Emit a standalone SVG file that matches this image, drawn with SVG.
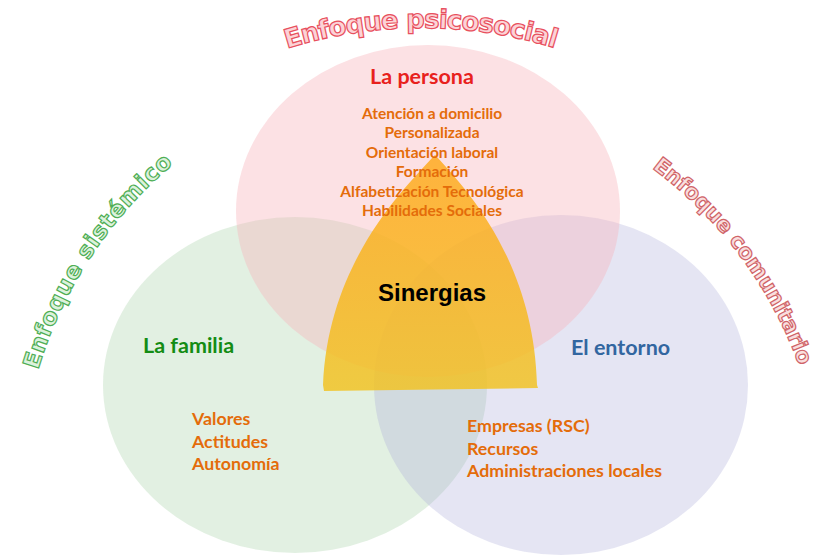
<svg xmlns="http://www.w3.org/2000/svg" width="821" height="555" viewBox="0 0 821 555">
<style>
.lbl{font-family:Lato,"Open Sans","Liberation Sans",sans-serif;font-weight:700;font-size:21.5px}
.item{font-family:Lato,"Open Sans","Liberation Sans",sans-serif;font-weight:700;fill:#e46c0a;font-size:15.5px}
.big{font-size:17.8px}
.arc{font-family:"DejaVu Sans","Liberation Sans",sans-serif;font-weight:700;stroke-width:1.2}
</style>
<defs>
<linearGradient id="sg" x1="0" y1="0" x2="0" y2="1">
<stop offset="0" stop-color="#ffa818"/>
<stop offset="1" stop-color="#f2c21e"/>
</linearGradient>
<path id="pTop" d="M 287 48.7 A 450 450 0 0 1 557 48.7"/>
<path id="pLeft" d="M 38 370 A 432 432 0 0 1 172 165"/>
<path id="pRight" d="M 652 168 A 426 426 0 0 1 797 360"/>
</defs>
<rect width="821" height="555" fill="#ffffff"/>
<g id="familia-circle"><ellipse cx="295" cy="385" rx="192" ry="168" fill="rgb(160,205,160)" fill-opacity="0.3"/></g>
<g id="entorno-circle"><ellipse cx="561" cy="385" rx="187" ry="170" fill="rgb(170,170,215)" fill-opacity="0.3"/></g>
<g id="persona-circle"><ellipse cx="428" cy="211" rx="192" ry="166" fill="rgb(248,180,188)" fill-opacity="0.4"/></g>
<g id="sinergias">
<path d="M 435 155 C 400 192, 328 265, 323 385 L 324 391 L 538 388 L 537 385 C 534 265, 470 192, 435 155 Z" fill="url(#sg)" fill-opacity="0.82"/>
<text x="432" y="301" text-anchor="middle" font-family="'Liberation Sans',Arial,sans-serif" font-weight="700" font-size="24" fill="#000">Sinergias</text>
</g>
<g id="persona">
<text class="lbl" x="422" y="84" text-anchor="middle" fill="#e8211d">La persona</text>
<text class="item" x="432" y="119" text-anchor="middle">Atención a domicilio</text>
<text class="item" x="432" y="138" text-anchor="middle">Personalizada</text>
<text class="item" x="432" y="158" text-anchor="middle">Orientación laboral</text>
<text class="item" x="432" y="177" text-anchor="middle">Formación</text>
<text class="item" x="432" y="197" text-anchor="middle">Alfabetización Tecnológica</text>
<text class="item" x="432" y="216" text-anchor="middle">Habilidades Sociales</text>
</g>
<g id="familia">
<text class="lbl" x="143" y="353" fill="#148c14">La familia</text>
<text class="item big" x="192" y="425">Valores</text>
<text class="item big" x="192" y="448">Actitudes</text>
<text class="item big" x="192" y="470">Autonomía</text>
</g>
<g id="entorno">
<text class="lbl" x="571" y="355" fill="#3266a0">El entorno</text>
<text class="item big" x="467" y="432">Empresas (RSC)</text>
<text class="item big" x="467" y="455">Recursos</text>
<text class="item big" x="467" y="477">Administraciones locales</text>
</g>
<g id="enfoques">
<text class="arc" font-size="26" fill="#fcd3d7" stroke="#e8505e"><textPath href="#pTop" textLength="272" lengthAdjust="spacing">Enfoque psicosocial</textPath></text>
<text class="arc" font-size="23" fill="#dcf2dc" stroke="#4fae55"><textPath href="#pLeft" textLength="250" lengthAdjust="spacing">Enfoque sistémico</textPath></text>
<text class="arc" font-size="21.5" fill="#f9dede" stroke="#d06468"><textPath href="#pRight" textLength="250" lengthAdjust="spacing">Enfoque comunitario</textPath></text>
</g>
<g id="connectors"/>
</svg>
